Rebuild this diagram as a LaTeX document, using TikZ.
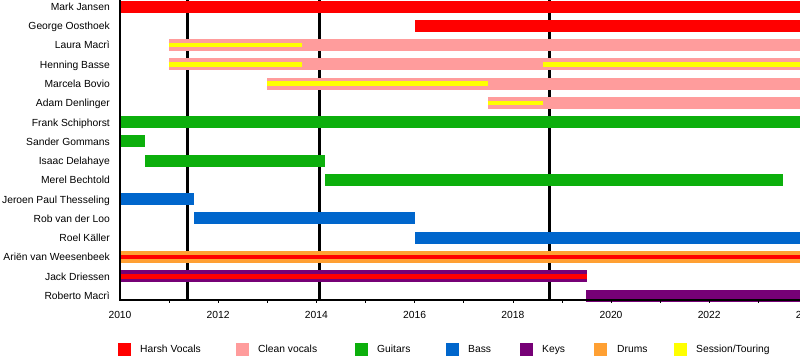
\documentclass[tikz,border=0pt]{standalone}
\usepackage{fontspec}
\setmainfont{Liberation Sans}
\definecolor{harsh}{HTML}{FF0000}
\definecolor{clean}{HTML}{FF9C9C}
\definecolor{guitar}{HTML}{0CAF0C}
\definecolor{bass}{HTML}{0066CC}
\definecolor{keys}{HTML}{760076}
\definecolor{drums}{HTML}{FFA033}
\definecolor{session}{HTML}{FFFF00}
\newcommand\yx[1]{{120+(#1-2010)*49.1}}
\newcommand\tlbar[4]{\fill[#1] (\yx{#2},{6.5+19.27*#4-6}) rectangle (\yx{#3},{6.5+19.27*#4+6});}
\newcommand\tlstripe[4]{\fill[#1] (\yx{#2},{6.5+19.27*#4-2.3}) rectangle (\yx{#3},{6.5+19.27*#4+2.3});}
\begin{document}
\begin{tikzpicture}[x=1pt,y=-1pt,
  txt/.style={font=\fontsize{10.3}{12}\selectfont,inner sep=0pt,text height=7.5pt,text depth=2pt},
  namelbl/.style={txt,anchor=east},
  yearlbl/.style={txt,anchor=center},
  legbox/.style={minimum width=13pt,minimum height=13pt,inner sep=0pt,anchor=west},
  leglbl/.style={txt,anchor=west},
  eraline/.style={line width=3pt,black}]
\useasboundingbox (0,0) rectangle (800,360);
\fill[white] (0,0) rectangle (800,360);
% era lines
\draw[eraline] (187,0) -- (187,300);
\draw[eraline] (319,0) -- (319,300);
\draw[eraline] (549,0) -- (549,300);
% names
\foreach \n [count=\i from 0] in {Mark Jansen,George Oosthoek,Laura Macrì,Henning Basse,Marcela Bovio,Adam Denlinger,Frank Schiphorst,Sander Gommans,Isaac Delahaye,Merel Bechtold,Jeroen Paul Thesseling,Rob van der Loo,Roel Käller,Ariën van Weesenbeek,Jack Driessen,Roberto Macrì}
  \node[namelbl] (n\i) at (110,{7.7+19.27*\i}) {\n};
% bars
\tlbar{harsh}{2010}{2024.2}{0}
\tlbar{harsh}{2016}{2024.2}{1}
\tlbar{clean}{2011}{2024.2}{2}
\tlstripe{session}{2011}{2013.7}{2}
\tlbar{clean}{2011}{2024.2}{3}
\tlstripe{session}{2011}{2013.7}{3}
\tlstripe{session}{2018.61}{2024.2}{3}
\tlbar{clean}{2013}{2024.2}{4}
\tlstripe{session}{2013}{2017.5}{4}
\tlbar{clean}{2017.5}{2024.2}{5}
\tlstripe{session}{2017.5}{2018.61}{5}
\tlbar{guitar}{2010}{2024.2}{6}
\tlbar{guitar}{2010}{2010.5}{7}
\tlbar{guitar}{2010.5}{2014.18}{8}
\tlbar{guitar}{2014.18}{2023.5}{9}
\tlbar{bass}{2010}{2011.5}{10}
\tlbar{bass}{2011.5}{2016}{11}
\tlbar{bass}{2016}{2024.2}{12}
\tlbar{drums}{2010}{2024.2}{13}
\tlstripe{harsh}{2010}{2024.2}{13}
\tlbar{keys}{2010}{2019.52}{14}
\tlstripe{harsh}{2010}{2019.52}{14}
\tlbar{keys}{2019.5}{2024.2}{15}
% axes
\draw[line width=1.2pt] (120,0) -- (120,300.6);
\draw[line width=1.2pt] (119.4,300) -- (800,300);
\foreach \y in {2011,...,2023}
  \draw[line width=0.6pt] (\yx{\y},300) -- (\yx{\y},303);
\foreach \y in {2010,2012,...,2024}
  \node[yearlbl] (y\y) at (\yx{\y},316) {\y};
% legend
\node[legbox,fill=harsh] (l1) at (118,349) {};
\node[leglbl] (t1) at (140,350) {Harsh Vocals};
\node[legbox,fill=clean] (l2) at (236,349) {};
\node[leglbl] (t2) at (258,350) {Clean vocals};
\node[legbox,fill=guitar] (l3) at (355,349) {};
\node[leglbl] (t3) at (377,350) {Guitars};
\node[legbox,fill=bass] (l4) at (446,349) {};
\node[leglbl] (t4) at (468,350) {Bass};
\node[legbox,fill=keys] (l5) at (520,349) {};
\node[leglbl] (t5) at (542,350) {Keys};
\node[legbox,fill=drums] (l6) at (594,349) {};
\node[leglbl] (t6) at (617,350) {Drums};
\node[legbox,fill=session] (l7) at (674,349) {};
\node[leglbl] (t7) at (696,350) {Session/Touring};
\end{tikzpicture}
\end{document}
